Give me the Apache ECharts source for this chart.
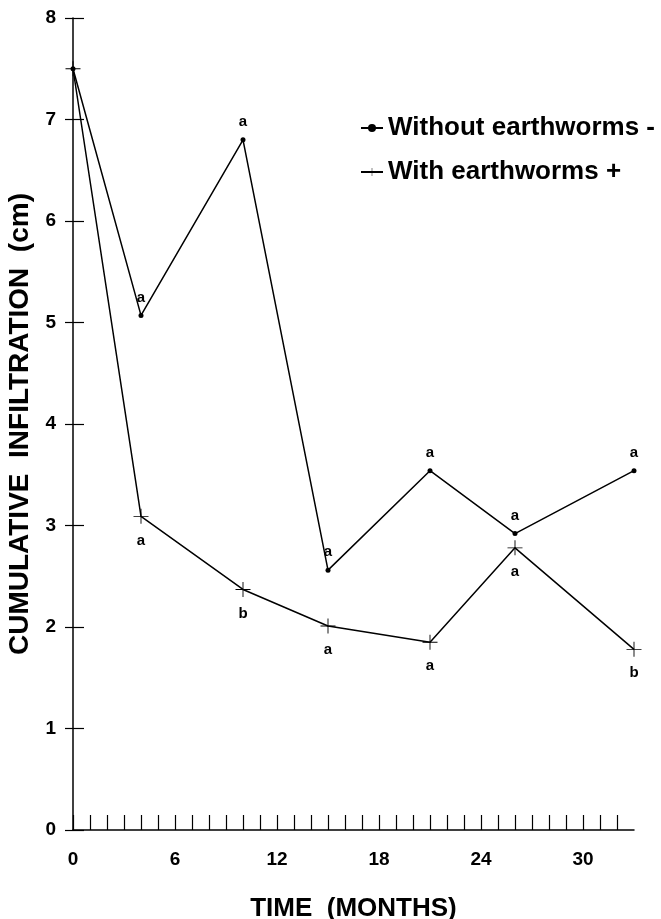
<!DOCTYPE html>
<html>
<head>
<meta charset="utf-8">
<script src="https://cdn.jsdelivr.net/npm/echarts@6/dist/echarts.min.js"></script>
<style>html,body{margin:0;padding:0;background:#fff;}#c{width:661px;height:919px;}</style>
</head>
<body>
<div id="c"></div>
<script>
const months = [0, 4, 10, 15, 21, 26, 33];
const withoutEarthworms = [7.5, 5.07, 6.8, 2.56, 3.54, 2.92, 3.54];
const withEarthworms = [7.5, 3.09, 2.37, 2.01, 1.85, 2.78, 1.78];
const withoutLetters = ['', 'a', 'a', 'a', 'a', 'a', 'a'];
const withLetters = ['', 'a', 'b', 'a', 'a', 'a', 'b'];
const xTickLabels = [0, 6, 12, 18, 24, 30];
const seriesNames = ['Without earthworms -', 'With earthworms +'];

const FONT = '"Liberation Sans", Arial, Helvetica, sans-serif';
const plusPath = 'path://M-0.6,-10 h1.2 v9.4 h9.4 v1.2 h-9.4 v9.4 h-1.2 v-9.4 h-9.4 v-1.2 h9.4 z';

const chart = echarts.init(document.getElementById('c'), null, {renderer: 'canvas'});
chart.setOption({
  animation: false,
  backgroundColor: '#fff',
  grid: {left: 73, right: 27, top: 18, bottom: 89, containLabel: false, outerBoundsMode: 'none'},
  legend: {
    orient: 'vertical',
    left: 355,
    top: 110,
    itemGap: 18,
    itemWidth: 22,
    itemHeight: 10,
    textStyle: {fontFamily: FONT, fontWeight: 'bold', fontSize: 26, color: '#000'},
    data: seriesNames
  },
  xAxis: {
    type: 'value', min: 0, max: 33, interval: 1,
    name: 'TIME  (MONTHS)', nameLocation: 'middle', nameGap: 66,
    nameTextStyle: {fontFamily: FONT, fontWeight: 'bold', fontSize: 26, color: '#000'},
    axisLine: {show: true, lineStyle: {color: '#000', width: 1.5}},
    axisTick: {show: true, inside: true, length: 15, lineStyle: {color: '#000', width: 1.2}},
    axisLabel: {
      fontFamily: FONT, fontWeight: 'bold', fontSize: 19, color: '#000', margin: 20,
      showMinLabel: true, showMaxLabel: false,
      formatter: v => xTickLabels.indexOf(v) >= 0 ? String(v) : ''
    },
    splitLine: {show: false}
  },
  yAxis: [{
    type: 'value', min: 0, max: 8, interval: 1,
    name: 'CUMULATIVE  INFILTRATION  (cm)', nameLocation: 'middle', nameGap: 37,
    nameTextStyle: {fontFamily: FONT, fontWeight: 'bold', fontSize: 28, color: '#000'},
    axisLine: {show: true, lineStyle: {color: '#000', width: 1.5}},
    axisTick: {show: true, inside: false, length: 8, lineStyle: {color: '#000', width: 1.2}},
    axisLabel: {fontFamily: FONT, fontWeight: 'bold', fontSize: 19, color: '#000', margin: 17},
    splitLine: {show: false}
  }, {
    type: 'value', min: 0, max: 8, interval: 1, position: 'left', offset: 0,
    axisLine: {show: false},
    axisTick: {show: true, inside: true, length: 11, lineStyle: {color: '#000', width: 1.2}},
    axisLabel: {show: false},
    splitLine: {show: false}
  }],
  series: [{
    name: seriesNames[0],
    type: 'line',
    data: months.map((m, i) => [m, withoutEarthworms[i]]),
    symbol: 'circle', symbolSize: 5,
    lineStyle: {color: '#000', width: 1.5},
    itemStyle: {color: '#000'},
    label: {
      show: true, position: 'top', distance: 8,
      fontFamily: FONT, fontWeight: 'bold', fontSize: 15, color: '#000',
      formatter: p => withoutLetters[p.dataIndex]
    }
  }, {
    name: seriesNames[1],
    type: 'line',
    data: months.map((m, i) => [m, withEarthworms[i]]),
    symbol: plusPath, symbolSize: 15,
    lineStyle: {color: '#000', width: 1.5},
    itemStyle: {color: '#000'},
    label: {
      show: true, position: 'bottom', distance: 9,
      fontFamily: FONT, fontWeight: 'bold', fontSize: 15, color: '#000',
      formatter: p => withLetters[p.dataIndex]
    }
  }]
});
</script>
</body>
</html>
